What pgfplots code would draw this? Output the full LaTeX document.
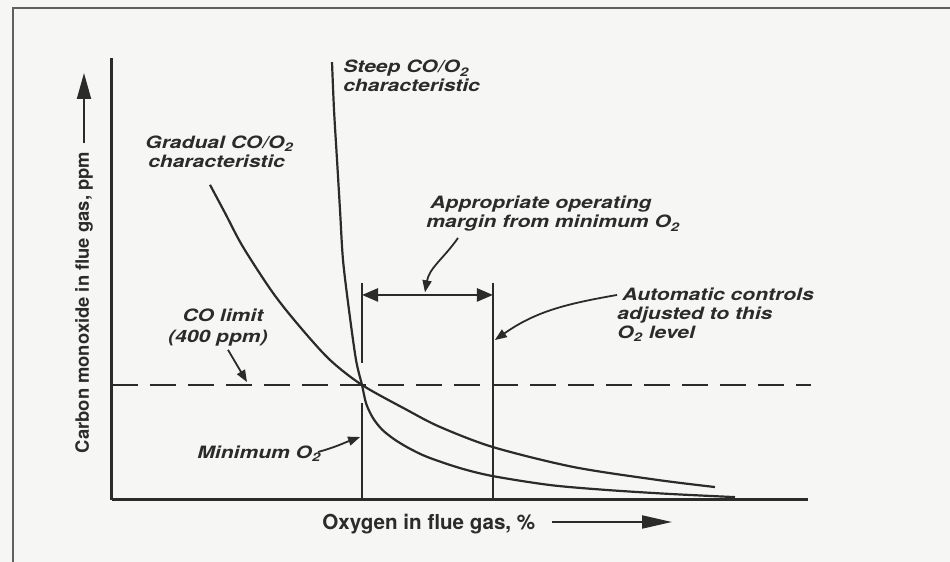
\documentclass[border=0pt]{standalone}
\usepackage{fontspec}
\setmainfont{TeX Gyre Heros}
\newfontfamily\hvs{TeX Gyre Heros}[FakeStretch=1.24]
\usepackage{pgfplots}
\pgfplotsset{compat=1.18}
\usetikzlibrary{arrows.meta}
\definecolor{ink}{HTML}{2B2B2B}
\definecolor{paper}{HTML}{F6F6F4}

\pgfplotstableread{
x y
3.161 1523
3.190 1356
3.233 1183
3.276 1009
3.319 835
3.405 661
3.506 487
3.592 400
3.652 335
3.750 285
3.880 245
4.050 212
4.260 181
4.526 150
5.000 111
5.474 83
6.293 52
7.098 35
8.017 21
8.951 10
}\steep

\pgfplotstableread{
x y
1.408 1096
1.624 998
1.882 880
2.313 720
2.701 602
3.132 487
3.592 400
4.239 313
4.713 254
5.474 184
6.624 115
7.830 70
8.664 45
}\gradual

\begin{document}
\begin{tikzpicture}[x=1pt,y=1pt,
  lbl/.style={font=\hvs\bfseries\itshape\fontsize{8.5}{10}\selectfont, text=ink, inner sep=0pt},
  ann/.style={ink, line width=0.9pt, -{Triangle[length=6pt,width=4.5pt]}}]
\fill[paper] (0,0) rectangle (475,281);
\path[use as bounding box] (0,0) rectangle (475,281);
\draw[ink!75, line width=1pt] (6.5,0) -- (6.5,277) -- (475,277);
\begin{axis}[
  at={(56pt,31pt)}, anchor=south west,
  scale only axis, width=348pt, height=221pt,
  xmin=0, xmax=10, ymin=0, ymax=1537,
  axis lines*=left, ticks=none,
  axis line style={ink, line width=1.5pt},
  clip=false,
]
\addplot[ink, line width=1.1pt, smooth] table[x=x,y=y] {\steep};
\addplot[ink, line width=1.1pt, smooth] table[x=x,y=y] {\gradual};
\addplot[ink, line width=1.4pt, dash pattern=on 13pt off 6pt] coordinates {(0,400) (10.05,400)};
\addplot[ink, line width=1.2pt] coordinates {(3.592,755) (3.592,476)};
\addplot[ink, line width=1.2pt] coordinates {(3.592,337) (3.592,0)};
\addplot[ink, line width=1.2pt] coordinates {(5.474,755) (5.474,0)};
\addplot[ink, line width=1.2pt, {Triangle[length=8pt,width=6.5pt]}-{Triangle[length=8pt,width=6.5pt]}] coordinates {(3.592,713) (5.474,713)};

\node[lbl, anchor=base west] at (axis cs:3.319,1485) {Steep CO/O\textsubscript{2}};
\node[lbl, anchor=base west] at (axis cs:3.319,1419) {characteristic};
\node[lbl, anchor=base west] at (axis cs:0.474,1224) {Gradual CO/O\textsubscript{2}};
\node[lbl, anchor=base west] at (axis cs:0.517,1155) {characteristic};
\node[lbl, anchor=base west] at (axis cs:4.569,1012) {Appropriate operating};
\node[lbl, anchor=base west] at (axis cs:4.511,946) {margin from minimum O\textsubscript{2}};
\node[lbl, anchor=base west] at (axis cs:7.328,692) {Automatic controls};
\node[lbl, anchor=base west] at (axis cs:7.256,626) {adjusted to this};
\node[lbl, anchor=base west] at (axis cs:7.256,563) {O\textsubscript{2} level};
\node[lbl, anchor=base] at (axis cs:1.595,619) {CO limit};
\node[lbl, anchor=base] at (axis cs:1.523,546) {(400 ppm)};
\node[lbl, anchor=base west] at (axis cs:1.221,146) {Minimum O\textsubscript{2}};

\draw[ann] (axis cs:4.971,911) to[out=235,in=80] (axis cs:4.497,722);
\draw[ann] (axis cs:7.256,713) to[out=190,in=35] (axis cs:5.50,556);
\draw[ann] (axis cs:1.667,522) -- (axis cs:1.940,410);
\draw[ann] (axis cs:2.960,167) to[out=15,in=200] (axis cs:3.565,219);
\end{axis}

\node[rotate=90, font=\bfseries\fontsize{9.2}{11}\selectfont, text=ink, inner sep=0pt] at (42,129.75) {Carbon monoxide in flue gas, ppm};
\draw[ink, line width=1pt, -{Triangle[length=13pt,width=7pt]}] (42,209.5) -- (42,244.5);
\node[anchor=base west, font=\bfseries\fontsize{10.3}{12}\selectfont, text=ink, inner sep=0pt] at (161,16) {Oxygen in flue gas, \%};
\draw[ink, line width=1pt, -{Triangle[length=15pt,width=6.5pt]}] (276,20) -- (336,20);
\end{tikzpicture}
\end{document}
